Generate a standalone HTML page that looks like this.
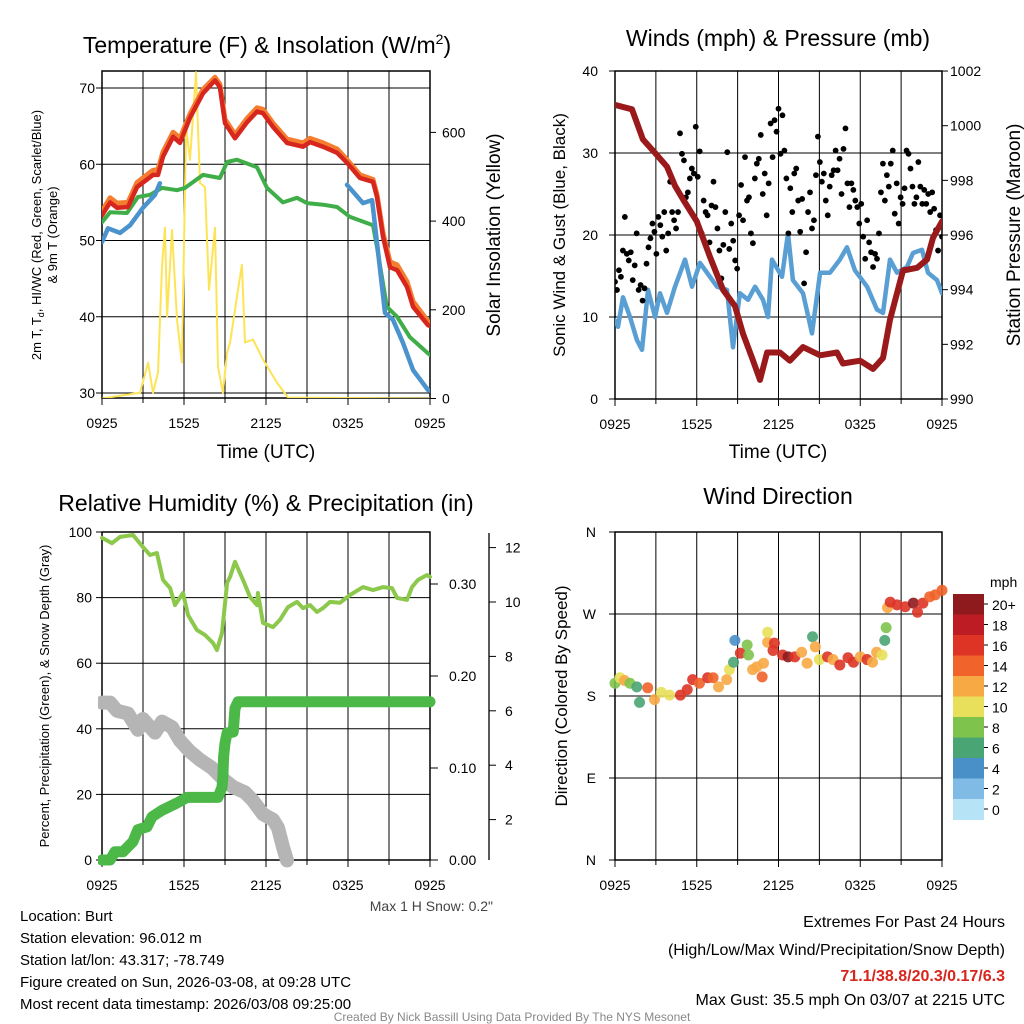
<!DOCTYPE html>
<html><head><meta charset="utf-8"><style>
body{margin:0;background:#fff;}
svg{display:block;font-family:"Liberation Sans",sans-serif;}
</style></head><body>
<svg id="root" width="1024" height="1024" viewBox="0 0 1024 1024" xmlns="http://www.w3.org/2000/svg">
<rect width="1024" height="1024" fill="#fff"/>
<defs>
<clipPath id="c1"><rect x="102" y="71" width="328" height="327"/></clipPath>
<clipPath id="c2"><rect x="615" y="71" width="327" height="328"/></clipPath>
<clipPath id="c3"><rect x="98" y="528" width="345" height="340"/></clipPath>
<clipPath id="c4"><rect x="605" y="522" width="345" height="345"/></clipPath>
</defs>
<text x="267" y="53" font-size="23" text-anchor="middle">Temperature (F) &amp; Insolation (W/m<tspan dy="-9" font-size="14">2</tspan><tspan dy="9">)</tspan></text>
<text x="778" y="46" font-size="23" text-anchor="middle">Winds (mph) &amp; Pressure (mb)</text>
<text x="266" y="511" font-size="23" text-anchor="middle">Relative Humidity (%) &amp; Precipitation (in)</text>
<text x="778" y="504" font-size="23" text-anchor="middle">Wind Direction</text>

<text transform="translate(41,235) rotate(-90)" font-size="13" text-anchor="middle">2m T, T<tspan font-size="9" dy="3">d</tspan><tspan dy="-3">, HI/WC (Red, Green, Scarlet/Blue)</tspan></text>
<text transform="translate(57,235) rotate(-90)" font-size="13" text-anchor="middle">&amp; 9m T (Orange)</text>
<text transform="translate(500,235) rotate(-90)" font-size="19" text-anchor="middle">Solar Insolation (Yellow)</text>
<text x="266" y="458" font-size="19" text-anchor="middle">Time (UTC)</text>
<text x="778" y="458" font-size="19" text-anchor="middle">Time (UTC)</text>
<text transform="translate(565,235) rotate(-90)" font-size="17" text-anchor="middle">Sonic Wind &amp; Gust (Blue, Black)</text>
<text transform="translate(1020,235) rotate(-90)" font-size="19" text-anchor="middle">Station Pressure (Maroon)</text>
<text transform="translate(49,696) rotate(-90)" font-size="13" text-anchor="middle">Percent, Precipitation (Green), &amp; Snow Depth (Gray)</text>
<text transform="translate(567,696) rotate(-90)" font-size="17" text-anchor="middle">Direction (Colored By Speed)</text>
<text x="493" y="911" font-size="14" fill="#444" text-anchor="end">Max 1 H Snow: 0.2"</text>

<g font-size="15">
<text x="20" y="921">Location: Burt</text>
<text x="20" y="943">Station elevation: 96.012 m</text>
<text x="20" y="965">Station lat/lon: 43.317; -78.749</text>
<text x="20" y="987">Figure created on Sun, 2026-03-08, at 09:28 UTC</text>
<text x="20" y="1009">Most recent data timestamp: 2026/03/08 09:25:00</text>
</g>
<g font-size="16" text-anchor="end">
<text x="1005" y="927">Extremes For Past 24 Hours</text>
<text x="1005" y="955">(High/Low/Max Wind/Precipitation/Snow Depth)</text>
<text x="1005" y="981" fill="#d7261e" font-weight="bold">71.1/38.8/20.3/0.17/6.3</text>
<text x="1005" y="1005">Max Gust: 35.5 mph On 03/07 at 2215 UTC</text>
</g>
<text x="512" y="1021" font-size="12" fill="#888" text-anchor="middle">Created By Nick Bassill Using Data Provided By The NYS Mesonet</text>
<g id="g"></g>
</svg>
<script>
// ---- Panel 1: temperature & insolation ----
const tempT = [0,0.59,1.1,1.9,2.56,3.73,4.1,4.46,5.2,5.71,6.44,7.39,8.27,8.63,9.0,9.73,10.61,11.34,11.78,12.51,13.54,14.71,15.22,16.17,17.2,17.93,18.88,19.83,20.12,20.56,21.07,21.59,22.32,22.76,23.85,24];
const tempRed = [53.3,55.0,54.3,54.4,57.0,58.6,58.6,61.0,63.6,62.8,66.1,69.3,71.0,70.1,65.4,63.4,65.5,66.9,66.7,64.9,62.8,62.3,62.9,62.3,61.5,60.2,58.2,57.7,55.7,50.5,46.5,46.1,43.9,41.3,38.9,38.8];
const temp9m = [53.9,55.6,54.9,55.0,57.6,59.2,59.3,61.6,64.2,63.4,66.6,69.8,71.4,70.5,65.9,63.9,66.0,67.4,67.2,65.4,63.3,62.8,63.4,62.8,62.0,60.6,58.6,58.0,56.0,51.0,47.2,46.8,44.6,42.0,39.4,39.2];
const dewT = [0,0.59,1.83,2.63,3.51,4.39,5.49,6.07,7.39,8.63,9.15,9.88,11.34,12.07,13.24,14.27,15.0,16.17,17.2,18.15,19.83,20.12,20.85,21.59,22.54,23.85,24];
const dewV = [52.4,53.7,53.6,55.7,56.0,56.9,56.6,56.9,58.6,58.2,60.3,60.6,59.6,56.9,55.0,55.6,54.9,54.7,54.4,53.1,52.0,49.1,41.3,40.0,37.3,35.2,35.0];
const wcT1 = [0,0.44,1.32,2.05,3.0,3.88,4.24];
const wcV1 = [49.8,51.6,51.0,52.0,54.3,56.0,57.5];
const wcT2 = [17.93,19.1,19.76,20.12,20.71,21.29,22.02,22.76,23.85,24];
const wcV2 = [57.3,54.9,55.3,49.7,40.5,39.6,36.6,33.0,30.4,30.3];
const solarT = [0,2.78,3.37,3.73,4.10,4.39,4.61,4.76,5.12,5.49,5.85,6.15,6.44,6.88,7.17,7.54,7.83,8.27,8.49,8.85,9.15,9.37,9.88,10.24,10.46,11.05,11.78,12.80,13.61,24];
const solarV = [0,13,81,13,58,297,385,185,380,178,81,612,538,736,486,477,245,385,72,13,104,126,230,302,126,133,88,36,2,0];
const tempTicks = [30,40,50,60,70];
const solarTicks = [0,200,400,600];
const timeLabels = ["0925","1525","2125","0325","0925"];
// ---- Panel 2: winds & pressure ----
const presT = [0,1.25,2.05,2.94,3.82,4.4,5.0,6.0,6.97,7.93,8.81,9.39,10.06,10.64,11.16,12.11,12.84,13.8,15.05,16.29,16.73,17.98,18.94,19.67,20.18,21.14,22.17,22.9,23.34,24];
const presV = [1000.76,1000.6,999.5,999.0,998.5,997.8,997.3,996.5,995.2,994.0,993.4,992.4,991.5,990.7,991.7,991.7,991.4,991.9,991.6,991.7,991.3,991.4,991.1,991.5,992.9,994.7,994.8,995.1,995.9,996.5];
const windT = [0,0.22,0.59,1.1,1.61,1.98,2.42,2.94,3.3,3.82,4.4,5.14,5.65,6.24,6.75,7.49,8.22,8.66,9.17,9.76,10.28,10.86,11.23,11.52,12.26,12.7,13.06,13.8,14.46,15.05,15.78,16.51,17.03,17.61,18.5,19.23,19.67,20.18,20.7,21.43,21.87,22.53,22.97,23.63,24];
const windV = [9.6,8.8,12.4,10.0,7.2,6.0,13.3,10.0,12.9,10.5,13.7,17.0,13.7,16.6,15.4,13.7,13.3,6.3,12.9,12.1,13.7,12.1,10.0,17.0,14.9,20.2,14.5,12.9,8.0,15.4,15.4,17.0,18.5,15.7,13.7,10.9,10.5,17.0,15.4,16.1,17.8,18.2,15.4,14.5,12.9];
const gustV = [14.3,13.3,15.7,14.9,18.1,22.2,17.7,16.9,17.9,14.5,16.3,20.2,13.3,13.9,12.0,13.5,16.5,18.5,19.6,21.4,20.4,17.7,22.2,21.2,19.8,22.8,18.1,20.2,26.5,22.8,21.8,20.8,22.8,32.4,29.9,29.1,24.6,25.2,26.9,28.1,27.5,33.2,27.1,30.2,20.2,24.2,22.8,22.4,19.1,23.6,26.5,23.4,20.8,18.1,14.7,18.8,22.8,30.1,18.3,21.4,19.3,16.9,15.9,22.4,26.1,21.8,29.5,24.2,24.6,20.2,19.0,26.9,28.7,29.3,32.2,25.0,27.5,22.4,26.3,33.6,29.5,34.0,32.6,35.4,29.9,34.6,30.3,26.9,20.2,25.7,22.8,27.5,28.1,24.2,20.4,24.4,14.1,17.9,22.8,25.2,20.8,21.8,27.3,32.0,28.9,26.5,27.5,24.2,22.4,25.9,27.3,27.9,30.3,27.9,29.3,25.0,30.5,33.0,26.3,23.4,26.3,25.5,24.2,23.4,21.4,23.8,19.8,17.1,21.8,19.1,17.9,16.1,17.7,17.1,20.2,25.2,28.7,24.2,27.3,25.9,28.7,30.3,22.6,26.3,21.4,24.6,23.8,25.7,30.3,29.9,28.1,25.9,23.8,24.6,28.9,25.9,23.8,25.5,23.8,25.0,22.8,25.2,23.2,20.6,18.1,22.4,19.8];
const windTicks = [0,10,20,30,40];
const presTicks = [990,992,994,996,998,1000,1002];
// ---- Panel 3: humidity, precip, snow ----
const rhT = [0,0.73,1.32,2.27,3.0,3.51,4.02,4.46,4.98,5.34,5.93,6.29,6.95,7.54,8.12,8.41,8.78,9.15,9.37,9.73,10.32,10.83,11.34,11.41,11.78,12.51,13.02,13.61,14.27,14.71,15.22,15.73,16.17,16.68,17.41,18.15,19.1,19.83,20.56,21.22,21.59,22.32,22.68,23.12,23.78,24];
const rhV = [98.2,96.6,98.5,99.1,95.4,93.0,93.6,85.4,82.9,77.7,81.4,74.7,70.1,68.6,66.2,64.0,69.2,84.5,86.3,90.9,85.4,80.2,77.7,81.4,72.3,71.0,73.2,77.1,78.7,76.8,77.7,75.6,76.8,78.7,78.4,80.8,83.2,82.3,83.2,82.9,79.9,79.3,83.2,85.4,86.9,86.3];
const precipT = [0,0.59,0.95,1.54,2.27,2.63,3.29,3.66,4.39,5.49,6.22,8.49,8.78,8.85,8.9,9.0,9.15,9.6,9.73,9.95,24];
const precipV = [0,0,0.009,0.009,0.02,0.033,0.036,0.047,0.054,0.062,0.068,0.068,0.079,0.09,0.112,0.127,0.138,0.139,0.165,0.172,0.172];
const snowT = [0,0.59,1.1,1.9,2.63,3.0,3.88,4.39,5.12,5.71,6.44,7.17,8.05,8.85,9.59,10.46,11.05,11.78,12.51,12.88,13.24,13.54];
const snowV = [6.3,6.3,6.0,5.9,5.3,5.7,5.2,5.6,5.4,4.9,4.5,4.2,3.9,3.5,3.2,3.0,2.7,2.2,2.0,1.7,1.0,0.5];
const rhTicks = [0,20,40,60,80,100];
const precipTicks = ["0.00","0.10","0.20","0.30"];
const snowTicks = [2,4,6,8,10,12];
// ---- Panel 4: wind direction ----
const dirT = [0,0.37,0.7,1.1,1.6,1.8,2.4,2.9,3.4,4.0,4.8,5.3,5.7,6.2,6.8,7.2,7.6,8.2,8.4,8.7,8.8,9.2,9.7,9.8,10.1,10.4,10.8,10.9,11.2,11.2,11.6,11.7,12.3,12.7,13.2,13.7,14.1,14.5,14.7,15.0,15.6,16.0,16.5,17.1,17.5,18.0,18.5,18.9,19.2,19.6,19.8,19.9,20.0,20.2,20.7,21.3,21.9,22.2,22.6,23.1,23.5,24];
const dirV = [194,200,197,194,190,173,189,176,184,181,181,187,198,194,200,200,190,198,209,217,241,227,236,225,209,212,201,216,239,250,230,238,225,223,223,228,216,245,234,220,223,220,214,222,217,223,220,217,228,225,241,255,277,283,280,278,282,272,282,289,291,296];
const dirSpeed = [9,10,12,9,7,7,14,12,10,11,16,16,17,15,16,15,12,12,10,7,5,17,8,9,12,12,15,13,12,10,17,16,17,20,17,13,13,7,13,10,16,13,17,17,17,13,16,13,12,10,7,9,13,17,16,17,20,17,16,14,14,14];
const dirLabels = ["N","E","S","W","N"];
const speedLabels = ["20+","18","16","14","12","10","8","6","4","2","0"];
const speedColors = ["#8f1a1d","#bd1c24","#dd3426","#f0632a","#f7a944","#e8e05a","#7ec34c","#4aa574","#4a90c8","#7fbbe5","#b7e3f7"];

const NS="http://www.w3.org/2000/svg";
const G=document.getElementById('g');
function mk(tag,attrs,parent){const e=document.createElementNS(NS,tag);for(const k in attrs)e.setAttribute(k,attrs[k]);(parent||G).appendChild(e);return e;}
function txt(x,y,s,size,anchor,parent){const e=mk('text',{x:x,y:y,'font-size':size,'text-anchor':anchor},parent);e.textContent=s;return e;}
function pathD(ts,vs,fx,fy){return ts.map((t,i)=>(i?'L':'M')+fx(t).toFixed(1)+','+fy(vs[i]).toFixed(1)).join('');}

const x1=t=>102+t*328/24, yT=v=>393-(v-30)*7.625, yS=v=>398.5-v*0.4435;
const x2=t=>615+t*327/24, yW=v=>399-v*8.2, yP=v=>399-(v-990)*27.33;
const x3=t=>102+t*328/24, yRH=v=>860-v*3.28, yPr=v=>860-v*920, ySn=v=>874-v*27.2;
const x4=t=>615+t*327/24, yD=d=>860-d*82/90;

function frame(name,L,T,R,B,hLines){
  const g=mk('g',{});
  
  
  for(let i=1;i<8;i++){const x=L+(R-L)*i/8;mk('line',{x1:x,y1:T,x2:x,y2:B,stroke:'#000','stroke-width':1},g);}
  hLines.forEach(y=>mk('line',{x1:L,y1:y,x2:R,y2:y,stroke:'#000','stroke-width':1},g));
  mk('rect',{x:L,y:T,width:R-L,height:B-T,fill:'none',stroke:'#000','stroke-width':1.5},g);
  for(let i=0;i<=8;i++){const x=L+(R-L)*i/8;mk('line',{x1:x,y1:B,x2:x,y2:B+(i%2?5:7),stroke:'#000','stroke-width':1},g);}
  const lg=mk('g',{'font-size':14});
  
  
  timeLabels.forEach((s,i)=>txt(L+(R-L)*i/4,B+30,s,14,'middle',lg));
}

// ---- Panel 1 ----
frame('temp-panel',102,71,430,398,tempTicks.map(yT));
tempTicks.forEach(v=>{mk('line',{x1:96,y1:yT(v),x2:102,y2:yT(v),stroke:'#000'});const t=txt(95,yT(v)+5,String(v),14,'end');});
solarTicks.forEach(v=>{mk('line',{x1:430,y1:yS(v),x2:436,y2:yS(v),stroke:'#000'});const t=txt(442,yS(v)+5,String(v),14,'start');});
const p1=mk('g',{'clip-path':'url(#c1)',fill:'none','stroke-linejoin':'round','stroke-linecap':'round'});
let e;
e=mk('path',{d:pathD(solarT,solarV,x1,yS),stroke:'#fde456','stroke-width':2},p1);


e=mk('path',{d:pathD(dewT,dewV,x1,yT),stroke:'#3fae49','stroke-width':4},p1);


e=mk('path',{d:pathD(wcT1,wcV1,x1,yT),stroke:'#4a93cd','stroke-width':4.5},p1);


e=mk('path',{d:pathD(wcT2,wcV2,x1,yT),stroke:'#4a93cd','stroke-width':4.5},p1);


e=mk('path',{d:pathD(tempT,temp9m,x1,yT),stroke:'#f47d30','stroke-width':5},p1);


e=mk('path',{d:pathD(tempT,tempRed,x1,yT),stroke:'#d7261e','stroke-width':4.5},p1);



// ---- Panel 2 ----
frame('wind-panel',615,71,942,399,windTicks.map(yW));
windTicks.forEach(v=>{mk('line',{x1:609,y1:yW(v),x2:615,y2:yW(v),stroke:'#000'});const t=txt(598,yW(v)+5,String(v),14,'end');});
presTicks.forEach(v=>{mk('line',{x1:942,y1:yP(v),x2:948,y2:yP(v),stroke:'#000'});const t=txt(950,yP(v)+5,String(v),14,'start');});
const p2=mk('g',{'clip-path':'url(#c2)',fill:'none','stroke-linejoin':'round','stroke-linecap':'round'});
e=mk('path',{d:pathD(windT,windV,x2,yW),stroke:'#5a9fd4','stroke-width':4.5},p2);


const gg=mk('g',{fill:'#000'},p2);


gustV.forEach((v,i)=>{const c=mk('circle',{cx:x2(i*24/(gustV.length-1)),cy:yW(v),r:2.9},gg);

});
e=mk('path',{d:pathD(presT,presV,x2,yP),stroke:'#9a1a1c','stroke-width':6},p2);



// ---- Panel 3 ----
frame('humidity-panel',102,532,430,860,rhTicks.map(yRH));
rhTicks.forEach(v=>{mk('line',{x1:96,y1:yRH(v),x2:102,y2:yRH(v),stroke:'#000'});const t=txt(92,yRH(v)+5,String(v),14,'end');});
precipTicks.forEach(s=>{const y=yPr(parseFloat(s));mk('line',{x1:430,y1:y,x2:438,y2:y,stroke:'#000'});const t=txt(449,y+5,s,14,'start');});
mk('line',{x1:489,y1:533,x2:489,y2:860,stroke:'#222','stroke-width':1.5});
snowTicks.forEach(v=>{mk('line',{x1:489,y1:ySn(v),x2:496,y2:ySn(v),stroke:'#000'});const t=txt(505,ySn(v)+5,String(v),14,'start');});
const p3=mk('g',{'clip-path':'url(#c3)',fill:'none','stroke-linejoin':'round','stroke-linecap':'round'});
e=mk('path',{d:pathD(rhT,rhV,x3,yRH),stroke:'#8cc84b','stroke-width':4},p3);


e=mk('path',{d:pathD(snowT,snowV,x3,ySn),stroke:'#b5b5b5','stroke-width':14},p3);


e=mk('path',{d:pathD(precipT,precipV,x3,yPr),stroke:'#4cb848','stroke-width':11},p3);



// ---- Panel 4 ----
frame('direction-panel',615,532,942,860,[0,90,180,270,360].map(yD));
dirLabels.forEach((s,i)=>{const y=yD(i*90);mk('line',{x1:609,y1:y,x2:615,y2:y,stroke:'#000'});const t=txt(596,y+5,s,14,'end');});
const p4=mk('g',{'clip-path':'url(#c4)'});
function spColor(s){let idx=Math.floor(s/2);if(idx>10)idx=10;return speedColors[10-idx];}
dirV.forEach((d,i)=>{const c=mk('circle',{cx:x4(dirT[i]),cy:yD(d),r:5.5,fill:spColor(dirSpeed[i]),'fill-opacity':0.9},p4);

});
const cb=mk('g',{});


txt(990,587,'mph',14,'start',cb);
speedColors.forEach((c,i)=>{mk('rect',{x:953,y:594+i*20.5,width:31,height:21,fill:c},cb);
mk('line',{x1:984,y1:604+i*20.5,x2:988,y2:604+i*20.5,stroke:'#000'},cb);
txt(992,610+i*20.5,speedLabels[i],14,'start',cb);});
</script>
</body></html>
